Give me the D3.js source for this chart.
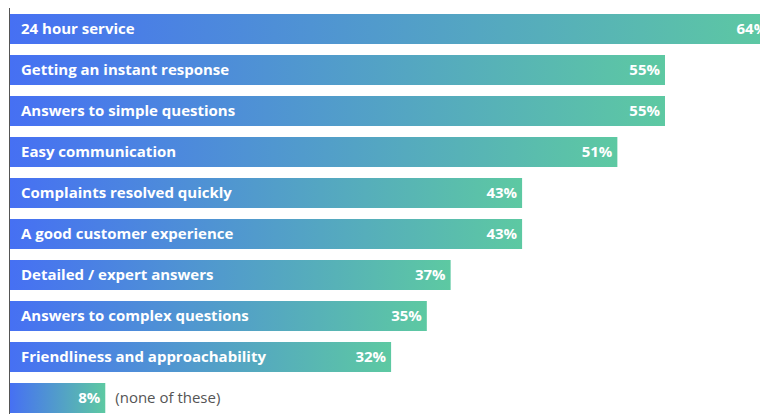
<!DOCTYPE html>
<html><head><meta charset="utf-8">
<script src="https://cdn.jsdelivr.net/npm/d3@7"></script>
<style>body{margin:0;background:#fff;overflow:hidden}svg{display:block}</style>
</head><body>
<script>
const categories = ["24 hour service","Getting an instant response","Answers to simple questions","Easy communication","Complaints resolved quickly","A good customer experience","Detailed / expert answers","Answers to complex questions","Friendliness and approachability",""];
const values = [64,55,55,51,43,43,37,35,32,8];
const extraLabels = ["","","","","","","","","","(none of these)"];

const W = 760, H = 414;
const svg = d3.select("body").append("svg").attr("width", W).attr("height", H);

const n = categories.length;
const x = d3.scaleLinear().domain([0, 55]).range([10, 665]);
const y = d3.scaleBand().domain(d3.range(n)).range([14, 14 + 41 * n - 11]).paddingInner(11/41).paddingOuter(0);

const defs = svg.append("defs");
const grad = defs.append("linearGradient").attr("id", "g").attr("x1", "0").attr("x2", "1").attr("y1", "0").attr("y2", "0");
grad.append("stop").attr("offset", "0").attr("stop-color", "#4670f3");
grad.append("stop").attr("offset", "1").attr("stop-color", "#5dc9a2");

// axis line
svg.append("line").attr("x1", 9.5).attr("x2", 9.5).attr("y1", 8).attr("y2", H).attr("stroke", "#555").attr("stroke-width", 1);

const font = "'Open Sans', sans-serif";
const fs = 15;
const g = svg.selectAll("g.bar").data(values).join("g").attr("class", "bar");
const bh = y.bandwidth();
g.append("rect")
  .attr("x", x(0))
  .attr("y", (d, i) => y(i))
  .attr("width", d => x(d) - x(0))
  .attr("height", bh)
  .attr("fill", "url(#g)");

g.append("text")
  .attr("x", 21)
  .attr("y", (d, i) => y(i) + bh / 2)
  .attr("dy", "0.36em")
  .attr("fill", "#fff")
  .attr("font-family", font)
  .attr("font-weight", 700)
  .attr("font-size", fs)
  .text((d, i) => categories[i]);

g.append("text")
  .attr("x", d => x(d) - 5)
  .attr("y", (d, i) => y(i) + bh / 2)
  .attr("dy", "0.36em")
  .attr("text-anchor", "end")
  .attr("fill", "#fff")
  .attr("font-family", font)
  .attr("font-weight", 700)
  .attr("font-size", fs)
  .text(d => d + "%");

g.append("text")
  .attr("x", d => x(d) + 10)
  .attr("y", (d, i) => y(i) + bh / 2)
  .attr("dy", "0.36em")
  .attr("fill", "#555")
  .attr("font-family", font)
  .attr("font-size", fs)
  .text((d, i) => extraLabels[i]);
</script>
</body></html>
